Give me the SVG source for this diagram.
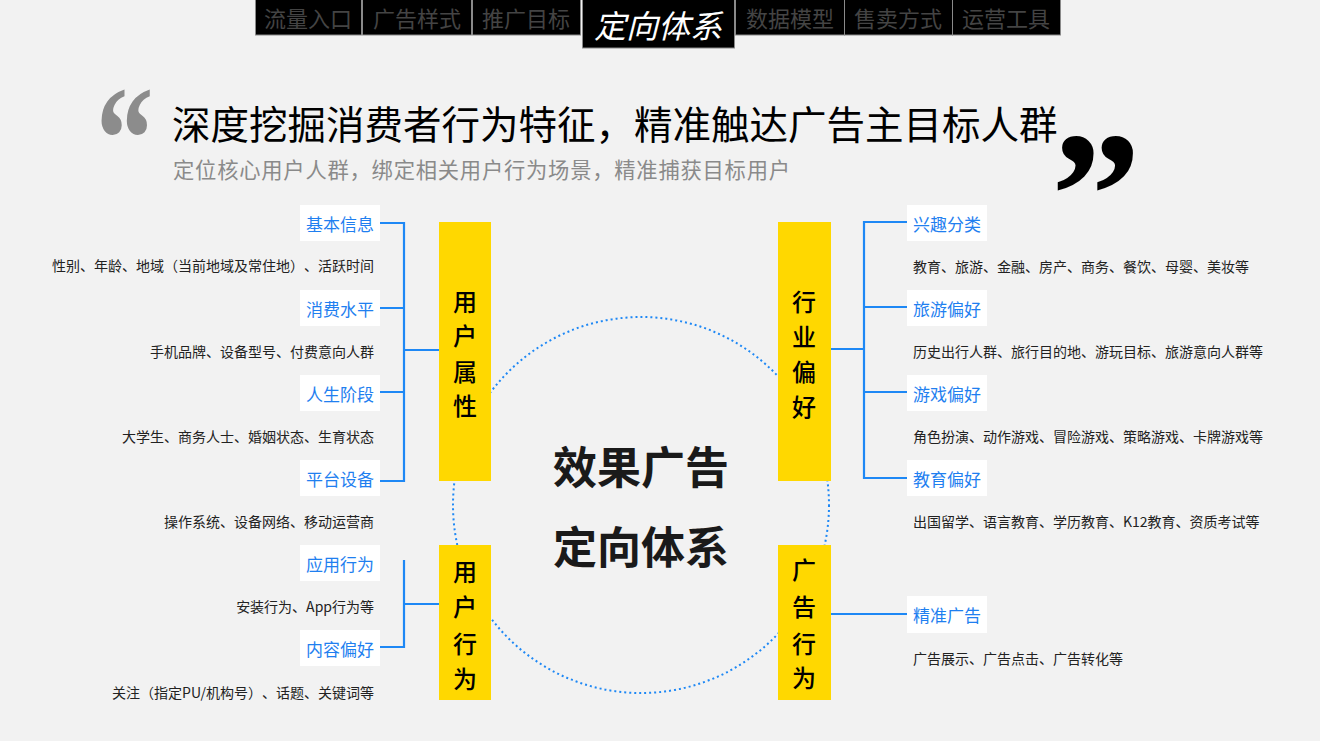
<svg xmlns="http://www.w3.org/2000/svg" width="1320" height="741" viewBox="0 0 1320 741">
<style>
text{text-spacing-trim:space-all}
.tab{fill:#000;stroke:#8a8a8a;stroke-width:1}
.tabt{font-family:"Noto Sans CJK SC",sans-serif;font-size:22px;fill:#444;text-anchor:middle;dominant-baseline:central}
.lbl{fill:#fff}
.lt{font-family:"Noto Sans CJK SC",sans-serif;font-size:17px;fill:#1f7ff0;dominant-baseline:central}
.dt{font-family:"Noto Sans CJK SC",sans-serif;font-size:14px;fill:#222;dominant-baseline:central}
.yb{fill:#ffd800}
.yt{font-family:"Noto Sans CJK SC",sans-serif;font-size:24px;font-weight:500;fill:#000;text-anchor:middle;dominant-baseline:central}
.ln{fill:none;stroke:#1e88f5;stroke-width:2.2}
.end{text-anchor:end}
</style>
<rect width="1320" height="741" fill="#f2f2f2"/>

<g id="tabs">
<rect class="tab" x="255.5" y="-1" width="106" height="36"/><text class="tabt" x="308" y="17">流量入口</text>
<rect class="tab" x="362.5" y="-1" width="109" height="36"/><text class="tabt" x="417" y="17">广告样式</text>
<rect class="tab" x="472.5" y="-1" width="108" height="36"/><text class="tabt" x="526" y="17">推广目标</text>
<rect class="tab" x="582.5" y="-1" width="152" height="49"/><text x="658" y="24" font-family="Noto Sans CJK SC,sans-serif" font-size="32" font-style="italic" fill="#fff" text-anchor="middle" dominant-baseline="central">定向体系</text>
<rect class="tab" x="735.5" y="-1" width="109" height="36"/><text class="tabt" x="790" y="17">数据模型</text>
<rect class="tab" x="844.5" y="-1" width="108" height="36"/><text class="tabt" x="898" y="17">售卖方式</text>
<rect class="tab" x="952.5" y="-1" width="108" height="36"/><text class="tabt" x="1006" y="17">运营工具</text>
</g>

<g id="heading">
<text transform="translate(96,190) scale(0.92,1.2)" font-family="Liberation Serif,serif" font-weight="bold" font-size="125" fill="#8c8c8c">“</text>
<text x="172" y="122" font-family="Noto Sans CJK SC,sans-serif" font-size="38.5" fill="#000" dominant-baseline="central">深度挖掘消费者行为特征，精准触达广告主目标人群</text>
<text x="173" y="168" font-family="Noto Sans CJK SC,sans-serif" font-size="21.3" fill="#8a8a8a" dominant-baseline="central" textLength="617" lengthAdjust="spacing">定位核心用户人群，绑定相关用户行为场景，精准捕获目标用户</text>
<text x="1051" y="256" font-family="Liberation Serif,serif" font-weight="bold" font-size="180" fill="#000">”</text>
</g>

<g id="connectors">
<circle cx="641" cy="505" r="188" fill="none" stroke="#1e88f5" stroke-width="2" stroke-dasharray="2 3"/>
<path class="ln" d="M380 223H404V481H380M380 308H404M380 392H404M404 350H439"/>
<path class="ln" d="M404 560V647H380M404 604H439"/>
<path class="ln" d="M907 222H864V478H907M864 307H907M864 392H907M831 349H864"/>
<path class="ln" d="M831 614H907"/>
</g>

<g id="center">
<text x="641" y="465" font-family="Noto Sans CJK SC,sans-serif" font-size="44" font-weight="bold" fill="#1a1a1a" text-anchor="middle" dominant-baseline="central">效果广告</text>
<text x="641" y="545" font-family="Noto Sans CJK SC,sans-serif" font-size="44" font-weight="bold" fill="#1a1a1a" text-anchor="middle" dominant-baseline="central">定向体系</text>
</g>

<g id="user-attr">
<rect class="yb" x="439" y="222" width="52" height="259"/>
<text class="yt" x="465" y="300">用</text><text class="yt" x="465" y="334">户</text><text class="yt" x="465" y="370">属</text><text class="yt" x="465" y="404">性</text>
</g>
<g id="user-behavior">
<rect class="yb" x="439" y="545" width="52" height="155"/>
<text class="yt" x="465" y="570">用</text><text class="yt" x="465" y="605">户</text><text class="yt" x="465" y="642">行</text><text class="yt" x="465" y="677">为</text>
</g>
<g id="industry-pref">
<rect class="yb" x="778" y="222" width="53" height="259"/>
<text class="yt" x="804" y="300">行</text><text class="yt" x="804" y="335">业</text><text class="yt" x="804" y="370">偏</text><text class="yt" x="804" y="405">好</text>
</g>
<g id="ad-behavior">
<rect class="yb" x="778" y="545" width="53" height="155"/>
<text class="yt" x="804" y="568">广</text><text class="yt" x="804" y="605">告</text><text class="yt" x="804" y="642">行</text><text class="yt" x="804" y="676">为</text>
</g>

<g id="basic-info"><rect class="lbl" x="300" y="205" width="80" height="36"/><text class="lt end" x="374" y="223">基本信息</text><text class="dt end" x="374" y="265">性别、年龄、地域（当前地域及常住地）、活跃时间</text></g>
<g id="consumption"><rect class="lbl" x="300" y="290" width="80" height="36"/><text class="lt end" x="374" y="308">消费水平</text><text class="dt end" x="374" y="351">手机品牌、设备型号、付费意向人群</text></g>
<g id="life-stage"><rect class="lbl" x="300" y="375" width="80" height="36"/><text class="lt end" x="374" y="393">人生阶段</text><text class="dt end" x="374" y="436">大学生、商务人士、婚姻状态、生育状态</text></g>
<g id="platform"><rect class="lbl" x="300" y="460" width="80" height="36"/><text class="lt end" x="374" y="478">平台设备</text><text class="dt end" x="374" y="521">操作系统、设备网络、移动运营商</text></g>
<g id="app-behavior"><rect class="lbl" x="300" y="545" width="80" height="36"/><text class="lt end" x="374" y="563">应用行为</text><text class="dt end" x="374" y="606">安装行为、App行为等</text></g>
<g id="content-pref"><rect class="lbl" x="300" y="630" width="80" height="36"/><text class="lt end" x="374" y="648">内容偏好</text><text class="dt end" x="374" y="692">关注（指定PU/机构号）、话题、关键词等</text></g>

<g id="interest"><rect class="lbl" x="907" y="205" width="80" height="36"/><text class="lt" x="913" y="223">兴趣分类</text><text class="dt" x="913" y="266">教育、旅游、金融、房产、商务、餐饮、母婴、美妆等</text></g>
<g id="travel"><rect class="lbl" x="907" y="290" width="80" height="36"/><text class="lt" x="913" y="308">旅游偏好</text><text class="dt" x="913" y="351">历史出行人群、旅行目的地、游玩目标、旅游意向人群等</text></g>
<g id="game"><rect class="lbl" x="907" y="375" width="80" height="36"/><text class="lt" x="913" y="393">游戏偏好</text><text class="dt" x="913" y="436">角色扮演、动作游戏、冒险游戏、策略游戏、卡牌游戏等</text></g>
<g id="education"><rect class="lbl" x="907" y="460" width="80" height="36"/><text class="lt" x="913" y="478">教育偏好</text><text class="dt" x="913" y="521">出国留学、语言教育、学历教育、K12教育、资质考试等</text></g>
<g id="precise-ad"><rect class="lbl" x="907" y="596" width="80" height="37"/><text class="lt" x="913" y="614">精准广告</text><text class="dt" x="913" y="658">广告展示、广告点击、广告转化等</text></g>
</svg>
